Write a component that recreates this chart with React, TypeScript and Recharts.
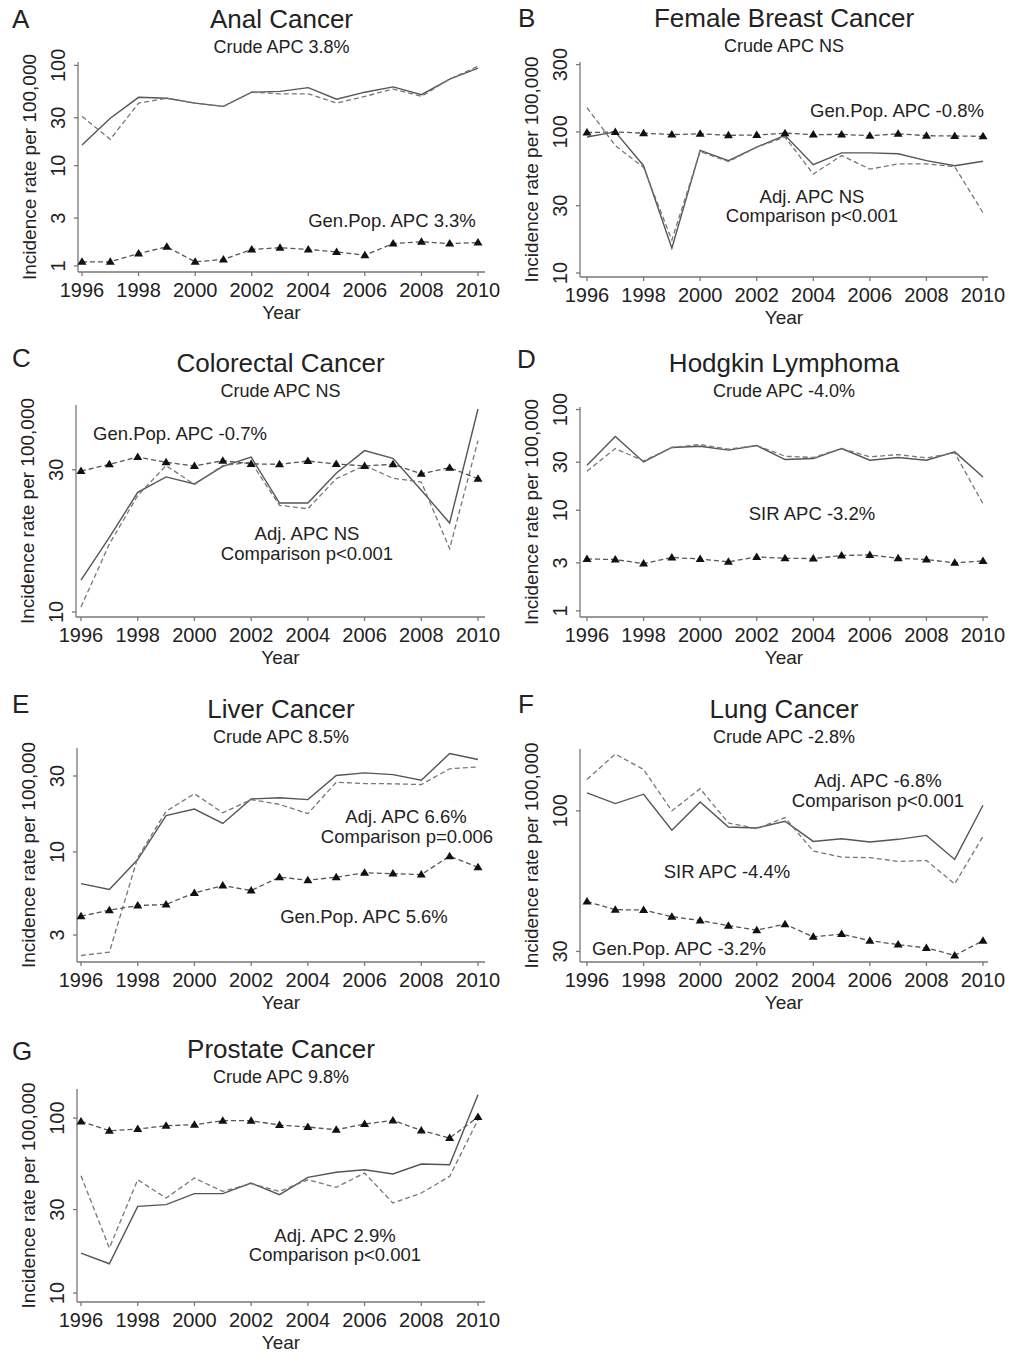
import React from "react";
import { Line, LineChart, XAxis, YAxis } from "recharts";

const FONT = "'Liberation Sans', Arial, sans-serif";
const INK = "#222";
const AXIS = "#777";

const years = [1996, 1997, 1998, 1999, 2000, 2001, 2002, 2003, 2004, 2005, 2006, 2007, 2008, 2009, 2010];
const yearTicks = [1996, 1998, 2000, 2002, 2004, 2006, 2008, 2010];

// A - anal
const analCrude = [16.1, 29.7, 48, 47, 42, 39, 54, 55, 60, 46, 54, 61, 51, 73, 94];
const analAdj = [31, 18.3, 42, 47, 42, 39, 54, 52, 52, 42, 49, 58, 49, 73, 98];
const analGenPop = [1.1, 1.1, 1.33, 1.55, 1.1, 1.16, 1.46, 1.52, 1.46, 1.38, 1.28, 1.67, 1.74, 1.67, 1.71];

// B - female breast
const breastCrude = [92, 100, 57.6, 15, 74, 62.6, 78, 94.6, 58.6, 71, 71, 70, 62.6, 57.6, 62];
const breastAdj = [148.6, 80, 56, 17.1, 72.6, 61.6, 78, 92, 50.2, 68, 54.5, 59.3, 59.3, 56.7, 26.7];
const breastGenPop = [98.9, 100, 98, 95.7, 97, 94.6, 95, 98, 95.7, 96, 94, 97, 94, 93.6, 93];

// C - colorectal
const colorectalCrude = [12.8, 17.8, 25.2, 28.4, 26.9, 30.8, 33.1, 23.2, 23.2, 29.2, 34.8, 32.8, 25.6, 19.9, 48];
const colorectalAdj = [10.4, 16.9, 24.6, 31, 26.8, 31, 31.8, 22.8, 22.2, 28, 31, 28.1, 27.3, 16.3, 37.6];
const colorectalGenPop = [29.7, 31.3, 33.1, 31.8, 30.9, 32.2, 31.4, 31.3, 32.1, 31.4, 30.9, 31.3, 29.1, 30.5, 28];

// D - hodgkin
const hodgkinCrude = [28, 54, 30.2, 42, 43.2, 39.5, 43.9, 31.9, 32.6, 41, 31.4, 33.4, 31.4, 38, 21.4];
const hodgkinAdj = [24.4, 41, 30.9, 42, 44.9, 40.4, 43.9, 34.4, 33.4, 41, 33.9, 35.7, 33.1, 37.1, 11.6];
const hodgkinGenPop = [3.28, 3.24, 2.95, 3.39, 3.28, 3.07, 3.44, 3.33, 3.31, 3.55, 3.6, 3.33, 3.24, 3.0, 3.14];

// E - liver
const liverCrude = [6.32, 5.8, 8.95, 16.9, 18.6, 15.1, 21.5, 21.9, 21.3, 30.2, 31.4, 30.6, 28.2, 41.5, 38.1];
const liverAdj = [2.23, 2.34, 9.2, 18, 23.2, 17.6, 21.3, 19.9, 17.4, 27.4, 26.9, 26.8, 26.5, 33.3, 34.2];
const liverGenPop = [3.94, 4.3, 4.6, 4.67, 5.52, 6.14, 5.71, 6.93, 6.64, 6.93, 7.38, 7.3, 7.2, 9.4, 8.0];

// F - lung
const lungCrude = [116.8, 106.5, 115.4, 84.7, 108, 87.1, 86.4, 91.5, 77, 78.8, 76.6, 78.4, 81.1, 66, 105];
const lungAdj = [131, 162.8, 142.6, 100, 121, 90.2, 85.9, 94.4, 70.9, 67.3, 67, 64.9, 65.4, 53.5, 80.4];
const lungGenPop = [46, 42.9, 42.8, 40.4, 39.1, 37.4, 36, 37.9, 34, 34.8, 32.9, 31.8, 30.9, 29, 32.9];

// G - prostate
const prostateCrude = [16.9, 14.7, 31.3, 32, 37, 37, 42.5, 36.5, 45.8, 49, 50.7, 47.9, 54.6, 54.1, 136];
const prostateAdj = [46.8, 18.1, 44.4, 34.9, 45.4, 38.1, 42.2, 38.1, 44.4, 40.2, 48.5, 32.7, 37.3, 46.4, 97.8];
const prostateGenPop = [95.7, 84.7, 86.5, 90.4, 91.6, 96.6, 96.6, 91.2, 88.9, 85.8, 92.4, 97, 85, 76.9, 101.4];

type Note = { text: string; x: number; y: number };

type PanelDef = {
  letter: string;
  title: string;
  subtitle: string;
  crude: number[];
  adj: number[];
  genPop: number[];
  domain: [number, number];
  ticks: number[];
  left: number;
  top: number;
  width: number;
  height: number;
  plotLeft: number;
  plotTop: number;
  plotBottom: number;
  plotRight: number;
  padLeft: number;
  padRight: number;
  titleY: number;
  letterX: number;
  letterY: number;
  notes: Note[];
};

const panels: PanelDef[] = [
  {
    letter: "A", title: "Anal Cancer", subtitle: "Crude APC 3.8%",
    crude: analCrude, adj: analAdj, genPop: analGenPop,
    domain: [0.87, 108], ticks: [1, 3, 10, 30, 100],
    left: 0, top: 0, width: 500, height: 340,
    plotLeft: 78, plotTop: 62, plotBottom: 272, plotRight: 485, padLeft: 4, padRight: 7,
    titleY: 28, letterX: 12, letterY: 28,
    notes: [{ text: "Gen.Pop. APC 3.3%", x: 392, y: 227 }],
  },
  {
    letter: "B", title: "Female Breast Cancer", subtitle: "Crude APC NS",
    crude: breastCrude, adj: breastAdj, genPop: breastGenPop,
    domain: [9.37, 313], ticks: [10, 30, 100, 300],
    left: 500, top: 0, width: 513, height: 340,
    plotLeft: 80, plotTop: 62, plotBottom: 277, plotRight: 488, padLeft: 7, padRight: 5,
    titleY: 27, letterX: 18, letterY: 27,
    notes: [
      { text: "Gen.Pop. APC -0.8%", x: 397, y: 117 },
      { text: "Adj. APC NS", x: 312, y: 203 },
      { text: "Comparison p<0.001", x: 312, y: 222 },
    ],
  },
  {
    letter: "C", title: "Colorectal Cancer", subtitle: "Crude APC NS",
    crude: colorectalCrude, adj: colorectalAdj, genPop: colorectalGenPop,
    domain: [9.62, 49.5], ticks: [10, 30],
    left: 0, top: 340, width: 500, height: 340,
    plotLeft: 76, plotTop: 65, plotBottom: 277, plotRight: 485, padLeft: 5, padRight: 7,
    titleY: 32, letterX: 12, letterY: 27,
    notes: [
      { text: "Gen.Pop. APC -0.7%", x: 180, y: 100 },
      { text: "Adj. APC NS", x: 307, y: 200 },
      { text: "Comparison p<0.001", x: 307, y: 220 },
    ],
  },
  {
    letter: "D", title: "Hodgkin Lymphoma", subtitle: "Crude APC -4.0%",
    crude: hodgkinCrude, adj: hodgkinAdj, genPop: hodgkinGenPop,
    domain: [0.87, 106], ticks: [1, 3, 10, 30, 100],
    left: 500, top: 340, width: 513, height: 340,
    plotLeft: 80, plotTop: 67, plotBottom: 277, plotRight: 488, padLeft: 7, padRight: 5,
    titleY: 32, letterX: 17, letterY: 28,
    notes: [{ text: "SIR APC -3.2%", x: 312, y: 180 }],
  },
  {
    letter: "E", title: "Liver Cancer", subtitle: "Crude APC 8.5%",
    crude: liverCrude, adj: liverAdj, genPop: liverGenPop,
    domain: [2.03, 45], ticks: [3, 10, 30],
    left: 0, top: 690, width: 500, height: 340,
    plotLeft: 77, plotTop: 58, plotBottom: 272, plotRight: 485, padLeft: 4, padRight: 7,
    titleY: 28, letterX: 12, letterY: 23,
    notes: [
      { text: "Adj. APC 6.6%", x: 406, y: 133 },
      { text: "Comparison p=0.006", x: 407, y: 153 },
      { text: "Gen.Pop. APC 5.6%", x: 364, y: 233 },
    ],
  },
  {
    letter: "F", title: "Lung Cancer", subtitle: "Crude APC -2.8%",
    crude: lungCrude, adj: lungAdj, genPop: lungGenPop,
    domain: [27.4, 170], ticks: [30, 100],
    left: 500, top: 690, width: 513, height: 340,
    plotLeft: 80, plotTop: 59, plotBottom: 272, plotRight: 488, padLeft: 7, padRight: 5,
    titleY: 28, letterX: 18, letterY: 23,
    notes: [
      { text: "Adj. APC -6.8%", x: 378, y: 97 },
      { text: "Comparison p<0.001", x: 378, y: 117 },
      { text: "SIR APC -4.4%", x: 227, y: 188 },
      { text: "Gen.Pop. APC -3.2%", x: 179, y: 265 },
    ],
  },
  {
    letter: "G", title: "Prostate Cancer", subtitle: "Crude APC 9.8%",
    crude: prostateCrude, adj: prostateAdj, genPop: prostateGenPop,
    domain: [8.89, 146.6], ticks: [10, 30, 100],
    left: 0, top: 1030, width: 500, height: 325,
    plotLeft: 77, plotTop: 59, plotBottom: 272, plotRight: 485, padLeft: 4, padRight: 7,
    titleY: 28, letterX: 12, letterY: 30,
    notes: [
      { text: "Adj. APC 2.9%", x: 335, y: 212 },
      { text: "Comparison p<0.001", x: 335, y: 231 },
    ],
  },
];

const YTick = (props: any) => {
  const { x, y, payload } = props;
  return (
    <text
      x={x}
      y={y}
      transform={`rotate(-90 ${x} ${y})`}
      textAnchor="middle"
      fontSize={20}
      fontFamily={FONT}
      fill={INK}
    >
      {payload.value}
    </text>
  );
};

const XTick = (props: any) => {
  const { x, y, payload } = props;
  return (
    <text x={x} y={y} dy="0.71em" textAnchor="middle" fontSize={20} fontFamily={FONT} fill={INK}>
      {payload.value}
    </text>
  );
};

const Triangle = (props: any) => {
  const { cx, cy, index } = props;
  if (cx == null || cy == null) return <g key={`t-${index}`} />;
  return (
    <path
      key={`t-${index}`}
      d={`M${cx} ${cy - 4.5} L${cx + 4.5} ${cy + 3} L${cx - 4.5} ${cy + 3} Z`}
      fill="#111"
    />
  );
};

function Panel({ p }: { p: PanelDef }) {
  const data = years.map((year, i) => ({
    year,
    crude: p.crude[i],
    adj: p.adj[i],
    genPop: p.genPop[i],
  }));
  const centerX = (p.plotLeft + p.plotRight) / 2;
  const centerY = (p.plotTop + p.plotBottom) / 2;
  const labelX = p.plotLeft - 42;

  return (
    <div style={{ position: "absolute", left: p.left, top: p.top, width: p.width, height: p.height }}>
      <LineChart
        width={p.width}
        height={p.height}
        data={data}
        margin={{ top: p.plotTop, right: p.width - p.plotRight, left: 0, bottom: 0 }}
      >
        <XAxis
          dataKey="year"
          type="number"
          domain={[1996, 2010]}
          ticks={yearTicks}
          padding={{ left: p.padLeft, right: p.padRight }}
          height={p.height - p.plotBottom}
          tick={<XTick />}
          tickSize={4}
          tickMargin={7}
          axisLine={{ stroke: AXIS, strokeWidth: 1.3 }}
          tickLine={{ stroke: AXIS, strokeWidth: 1.3 }}
          interval={0}
        />
        <YAxis
          type="number"
          scale="log"
          domain={p.domain}
          allowDataOverflow
          ticks={p.ticks}
          width={p.plotLeft}
          tick={<YTick />}
          tickSize={4}
          tickMargin={9}
          axisLine={{ stroke: AXIS, strokeWidth: 1.3 }}
          tickLine={{ stroke: AXIS, strokeWidth: 1.3 }}
          interval={0}
        />
        <Line
          dataKey="crude"
          type="linear"
          stroke="#555"
          strokeWidth={1.4}
          dot={false}
          activeDot={false}
          isAnimationActive={false}
        />
        <Line
          dataKey="adj"
          type="linear"
          stroke="#777"
          strokeWidth={1.3}
          strokeDasharray="5 3"
          dot={false}
          activeDot={false}
          isAnimationActive={false}
        />
        <Line
          dataKey="genPop"
          type="linear"
          stroke="#555"
          strokeWidth={1.3}
          strokeDasharray="5 3"
          dot={(d: any) => <Triangle {...d} />}
          activeDot={false}
          isAnimationActive={false}
        />
      </LineChart>
      <svg
        width={p.width}
        height={p.height}
        style={{ position: "absolute", left: 0, top: 0, overflow: "visible", pointerEvents: "none" }}
        fontFamily={FONT}
        fill={INK}
      >
        <text x={p.letterX} y={p.letterY} fontSize={26}>{p.letter}</text>
        <text x={centerX} y={p.titleY} fontSize={26} textAnchor="middle">{p.title}</text>
        <text x={centerX} y={p.titleY + 25} fontSize={18} textAnchor="middle">{p.subtitle}</text>
        <text
          x={labelX}
          y={centerY}
          fontSize={19}
          textAnchor="middle"
          transform={`rotate(-90 ${labelX} ${centerY})`}
        >
          Incidence rate per 100,000
        </text>
        <text x={centerX} y={p.plotBottom + 47} fontSize={19} textAnchor="middle">Year</text>
        {p.notes.map((n) => (
          <text key={n.text} x={n.x} y={n.y} fontSize={18.5} textAnchor="middle">{n.text}</text>
        ))}
      </svg>
    </div>
  );
}

export default function App() {
  return (
    <div style={{ position: "absolute", left: 0, top: 0, width: 1013, height: 1355, background: "#fff" }}>
      {panels.map((p) => (
        <Panel key={p.letter} p={p} />
      ))}
    </div>
  );
}
